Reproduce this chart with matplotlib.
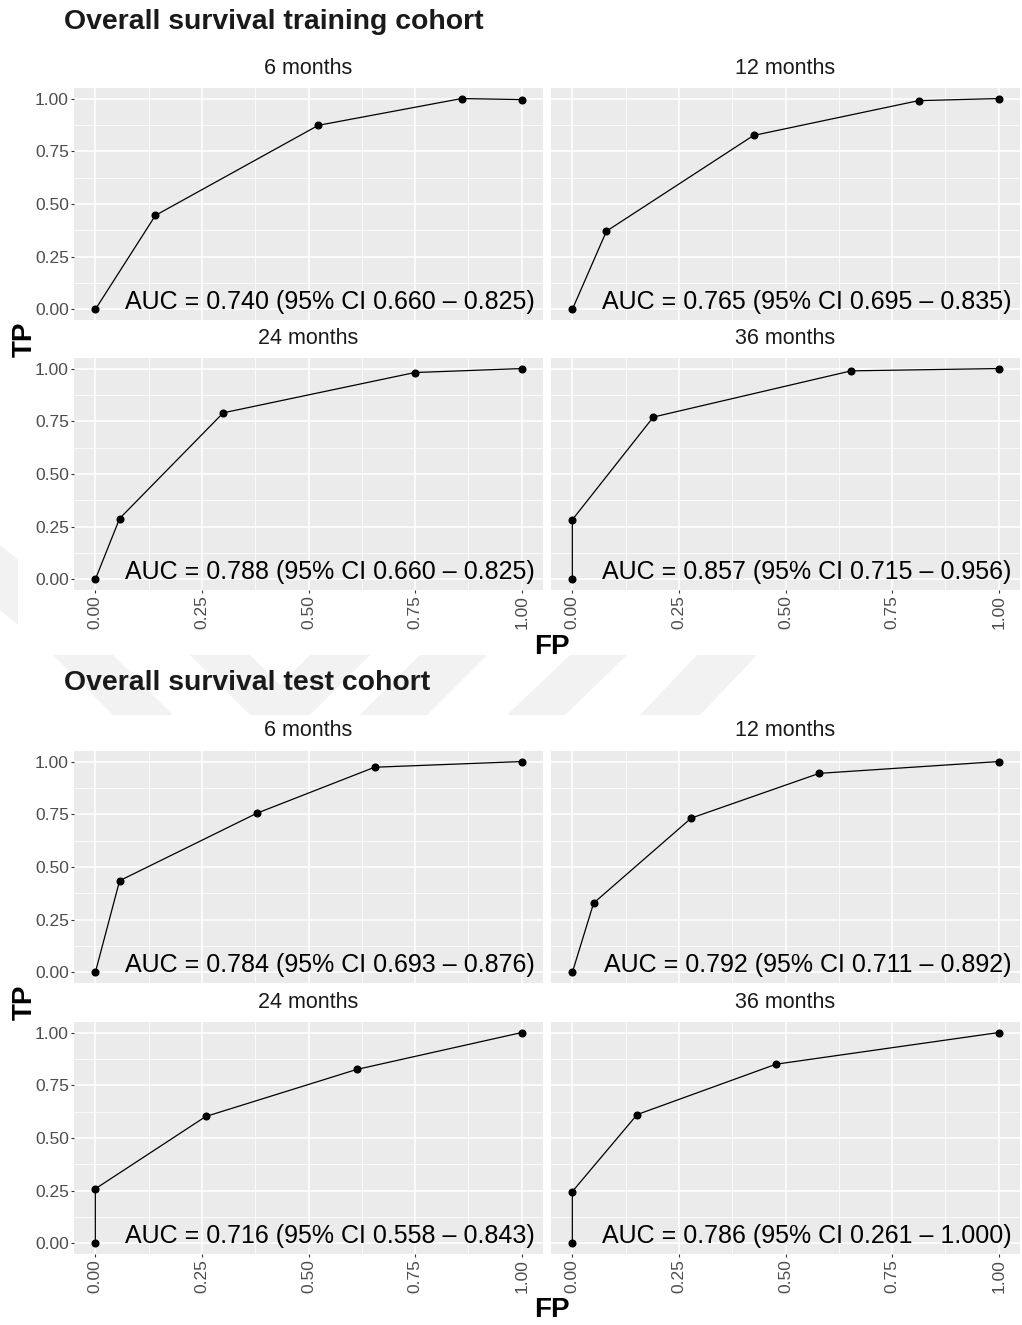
import matplotlib.pyplot as plt
from matplotlib.patches import Polygon
from matplotlib.ticker import MultipleLocator

plt.rcParams['font.family'] = ['Liberation Sans', 'DejaVu Sans']

# ROC points (false positive rate / true positive rate) per time horizon
PERIODS = ["6 months", "12 months", "24 months", "36 months"]

train_fp_6m = [0.0, 0.141, 0.523, 0.859, 1.0]
train_tp_6m = [0.0, 0.446, 0.873, 1.0, 0.995]
train_fp_12m = [0.0, 0.080, 0.425, 0.812, 1.0]
train_tp_12m = [0.0, 0.371, 0.825, 0.990, 1.0]
train_fp_24m = [0.0, 0.057, 0.300, 0.749, 1.0]
train_tp_24m = [0.0, 0.289, 0.790, 0.981, 1.0]
train_fp_36m = [0.0, 0.0, 0.190, 0.654, 1.0]
train_tp_36m = [0.0, 0.283, 0.770, 0.989, 1.0]

test_fp_6m = [0.0, 0.057, 0.379, 0.655, 1.0]
test_tp_6m = [0.0, 0.435, 0.755, 0.973, 1.0]
test_fp_12m = [0.0, 0.050, 0.279, 0.579, 1.0]
test_tp_12m = [0.0, 0.329, 0.732, 0.944, 1.0]
test_fp_24m = [0.0, 0.0, 0.259, 0.613, 1.0]
test_tp_24m = [0.0, 0.259, 0.602, 0.825, 1.0]
test_fp_36m = [0.0, 0.0, 0.152, 0.478, 1.0]
test_tp_36m = [0.0, 0.246, 0.611, 0.850, 1.0]

# AUC with 95% confidence interval
train_auc = ["0.740", "0.765", "0.788", "0.857"]
train_ci_low = ["0.660", "0.695", "0.660", "0.715"]
train_ci_high = ["0.825", "0.835", "0.825", "0.956"]
test_auc = ["0.784", "0.792", "0.716", "0.786"]
test_ci_low = ["0.693", "0.711", "0.558", "0.261"]
test_ci_high = ["0.876", "0.892", "0.843", "1.000"]

TICKS = [0.0, 0.25, 0.5, 0.75, 1.0]

W, H = 1022, 1325
fig = plt.figure(figsize=(W / 100, H / 100), dpi=100)

# faint background watermark
wm = [
    [(0, 545), (18, 560), (18, 625), (0, 610)],
    [(53, 655), (113, 655), (173, 715), (113, 715)],
    [(190, 655), (250, 655), (310, 715), (250, 715)],
    [(310, 655), (370, 655), (310, 715), (250, 715)],
    [(420, 655), (487, 655), (427, 715), (360, 715)],
    [(570, 655), (627, 655), (565, 715), (507, 715)],
    [(697, 655), (757, 655), (700, 715), (640, 715)],
]
for poly in wm:
    pts = [(x / W, 1 - y / H) for x, y in poly]
    fig.patches.append(Polygon(pts, closed=True, transform=fig.transFigure,
                               facecolor="#F2F2F2", edgecolor="none", zorder=0))

COLS = [(74, 543), (551, 1020)]
PANEL_H = 232


def px_axes(x0, y0, x1, y1):
    return fig.add_axes([x0 / W, 1 - y1 / H, (x1 - x0) / W, (y1 - y0) / H])


def draw_cohort(title, fps, tps, auc, lo, hi, row_tops, title_y, fp_y):
    fig.text(64 / W, 1 - title_y / H, title, fontsize=20.4, fontweight="bold",
             color="#1A1A1A", ha="left", va="center")
    labels = [f"{v:.2f}" for v in TICKS]
    for i in range(4):
        r, c = divmod(i, 2)
        x0, x1 = COLS[c]
        y0 = row_tops[r]
        ax = px_axes(x0, y0, x1, y0 + PANEL_H)
        ax.set_facecolor("#EBEBEB")
        for s in ax.spines.values():
            s.set_visible(False)
        ax.set_xlim(-0.05, 1.05)
        ax.set_ylim(-0.05, 1.05)
        for axis in (ax.xaxis, ax.yaxis):
            axis.set_major_locator(MultipleLocator(0.25))
            axis.set_minor_locator(MultipleLocator(0.125))
        ax.grid(which="major", color="white", linewidth=1.1)
        ax.grid(which="minor", color="white", linewidth=0.55)
        ax.set_axisbelow(True)
        ax.tick_params(which="minor", length=0)
        ax.tick_params(which="major", length=2.2, width=0.8, color="#333333",
                       labelcolor="#4D4D4D", labelsize=12.5, pad=1.5)
        if c == 0:
            ax.set_yticks(TICKS)
            ax.set_yticklabels(labels)
        else:
            ax.tick_params(axis="y", length=0, labelleft=False)
        if r == 1:
            ax.set_xticks(TICKS)
            ax.set_xticklabels(labels, rotation=90, va="top", ha="center")
        else:
            ax.tick_params(axis="x", length=0, labelbottom=False)

        ax.plot(fps[i], tps[i], color="black", linewidth=0.9, zorder=3)
        ax.plot(fps[i], tps[i], "o", color="black", markersize=4.8, zorder=4)
        ax.text(1.03, 0.0, f"AUC = {auc[i]} (95% CI {lo[i]} \u2013 {hi[i]})",
                fontsize=18, color="black", ha="right", va="baseline", zorder=5)
        fig.text((x0 + x1) / 2 / W, 1 - (y0 - 20) / H, PERIODS[i],
                 fontsize=15.5, color="#1A1A1A", ha="center", va="center")

    mid = (row_tops[0] + row_tops[1] + PANEL_H) / 2
    fig.text(25 / W, 1 - mid / H, "TP", fontsize=20, fontweight="bold",
             rotation=90, ha="center", va="center")
    fig.text(552 / W, 1 - fp_y / H, "FP", fontsize=20, fontweight="bold",
             ha="center", va="center")


draw_cohort("Overall survival training cohort",
            [train_fp_6m, train_fp_12m, train_fp_24m, train_fp_36m],
            [train_tp_6m, train_tp_12m, train_tp_24m, train_tp_36m],
            train_auc, train_ci_low, train_ci_high,
            row_tops=[88, 358], title_y=22, fp_y=647)

draw_cohort("Overall survival test cohort",
            [test_fp_6m, test_fp_12m, test_fp_24m, test_fp_36m],
            [test_tp_6m, test_tp_12m, test_tp_24m, test_tp_36m],
            test_auc, test_ci_low, test_ci_high,
            row_tops=[751, 1022], title_y=683, fp_y=1310)

fig.savefig("out.png", dpi=100)
